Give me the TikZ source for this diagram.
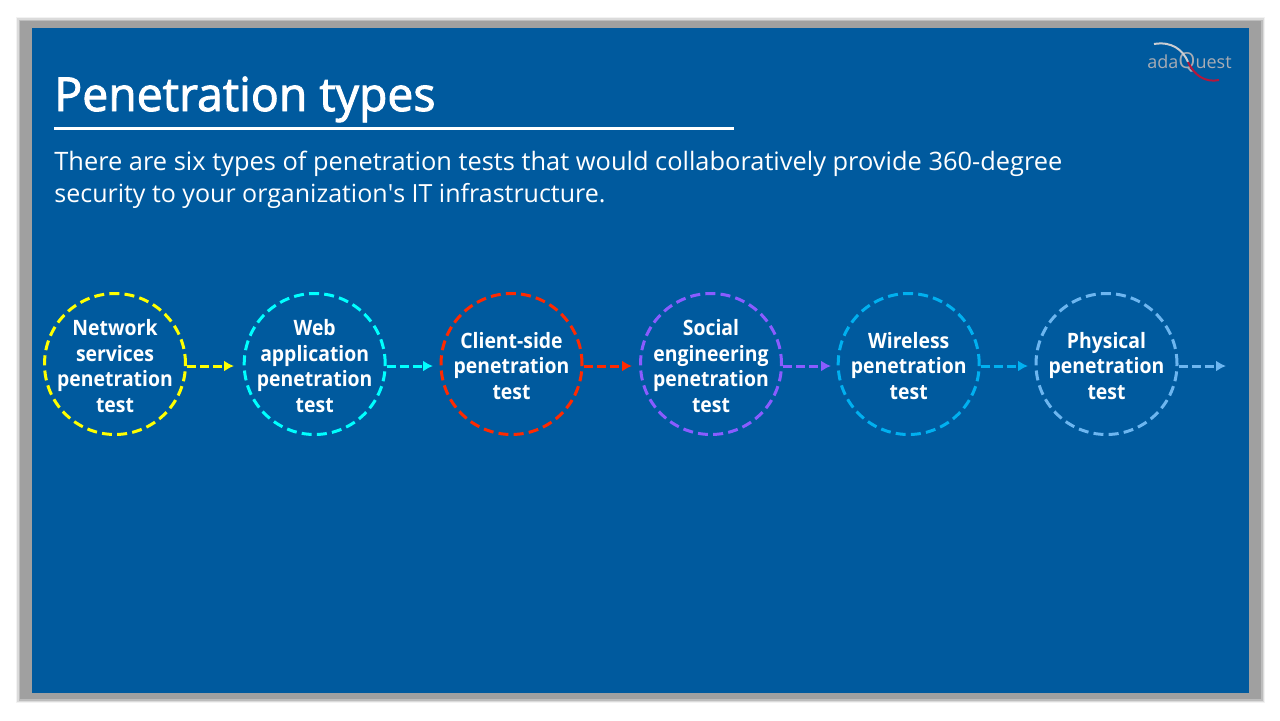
\documentclass[tikz,border=0pt]{standalone}
\usepackage{fontspec}
\setmainfont{Open Sans}
\newfontfamily\headfont[FakeBold=2,FakeStretch=0.99]{Open Sans}
\newfontfamily\circlefont[FakeStretch=0.915]{Open Sans}
\usetikzlibrary{arrows.meta}
\definecolor{slideblue}{HTML}{005A9E}
\definecolor{framegray}{HTML}{A0A0A0}
\definecolor{testyellow}{HTML}{FFFF00}
\definecolor{testcyan}{HTML}{00FFFF}
\definecolor{testred}{HTML}{FF2A00}
\definecolor{testpurple}{HTML}{8A5CFF}
\definecolor{testsky}{HTML}{00B0F0}
\definecolor{testpale}{HTML}{6DB6F0}
\definecolor{logogray}{HTML}{A8ACB4}
\definecolor{logored}{HTML}{B5173C}
\newcommand{\firstline}{\rule{0pt}{10pt}}
\tikzset{
  testcircle/.style={circle, draw=#1, line width=1.5pt, dash pattern=on 5pt off 2.6pt,
    minimum size=70.5pt, inner sep=-8pt, text=white, align=center,
    font=\fontsize{10.6}{12.75}\circlefont\bfseries},
  testarrow/.style={draw=#1, line width=1.5pt, dash pattern=on 4.5pt off 2pt,
    -{Latex[length=5pt,width=5.5pt,#1]}},
}
\begin{document}
\begin{tikzpicture}[x=0.5pt, y=-0.5pt]
    \useasboundingbox (0,0) rectangle (1280,720);
    \fill[white] (0,0) rectangle (1280,720);
    % frame with soft edge
    \fill[black!5] (16,17) rectangle (1265,703);
    \fill[black!14] (17,18) rectangle (1264,702);
    \fill[black!26] (18.5,19.5) rectangle (1262.5,700.5);
    \fill[framegray] (20,21) rectangle (1261,699);
    \fill[slideblue] (32,28) rectangle (1249,693);
    % logo
    \node[text=logogray, inner sep=0pt, font=\fontsize{9}{10}\selectfont] (logo) at (1189.5,62) {ada{\fontsize{11}{10}\selectfont Q}uest};
    \coordinate (swooshstart) at (1154,44);
    \coordinate (swooshmid) at (1188,62);
    \coordinate (swooshend) at (1219,80);
    \draw[logogray!60!white, line width=1pt] (swooshstart) .. controls (1172,41) and (1183,50) .. (swooshmid);
    \draw[logored, line width=1pt] (swooshmid) .. controls (1194,75) and (1205,83) .. (swooshend);
    % heading
    \node[anchor=base west, inner sep=0pt, text=white, font=\fontsize{23.4}{28}\headfont] (title) at (54,111) {Penetration types};
    \coordinate (rulestart) at (54,128);
    \coordinate (ruleend) at (734,128);
    \draw[white, line width=1.5pt] (rulestart) -- (ruleend);
    \node[anchor=north west, inner sep=0pt, text=white, align=left, font=\fontsize{12.7}{16}\selectfont] (intro) at (54,151)
      {There are six types of penetration tests that would collaboratively provide 360-degree\\
       \fontsize{12.5}{16}\selectfont security to your organization\textquotesingle s IT infrastructure.};
    % circles
    \node[testcircle=testyellow] (network) at (115,364) {\firstline Network\\services\\penetration\\test};
    \node[testcircle=testcyan] (web) at (314.7,364) {\firstline Web\\application\\penetration\\test};
    \node[testcircle=testred] (client) at (511.5,364) {\firstline Client-side\\penetration\\test};
    \node[testcircle=testpurple] (social) at (711,364) {\firstline Social\\engineering\\penetration\\test};
    \node[testcircle=testsky] (wireless) at (908.7,364) {\firstline Wireless\\penetration\\test};
    \node[testcircle=testpale] (physical) at (1106.5,364) {\firstline Physical\\penetration\\test};
    % arrows
    \coordinate (webtip) at (234,366);
    \coordinate (clienttip) at (433,366);
    \coordinate (socialtip) at (632,366);
    \coordinate (wirelesstip) at (831,366);
    \coordinate (physicaltip) at (1028,366);
    \coordinate (lasttip) at (1226,366);
    \draw[testarrow=testyellow] (network.east |- webtip) -- (webtip);
    \draw[testarrow=testcyan] (web.east |- clienttip) -- (clienttip);
    \draw[testarrow=testred] (client.east |- socialtip) -- (socialtip);
    \draw[testarrow=testpurple] (social.east |- wirelesstip) -- (wirelesstip);
    \draw[testarrow=testsky] (wireless.east |- physicaltip) -- (physicaltip);
    \draw[testarrow=testpale] (physical.east |- lasttip) -- (lasttip);
\end{tikzpicture}
\end{document}
